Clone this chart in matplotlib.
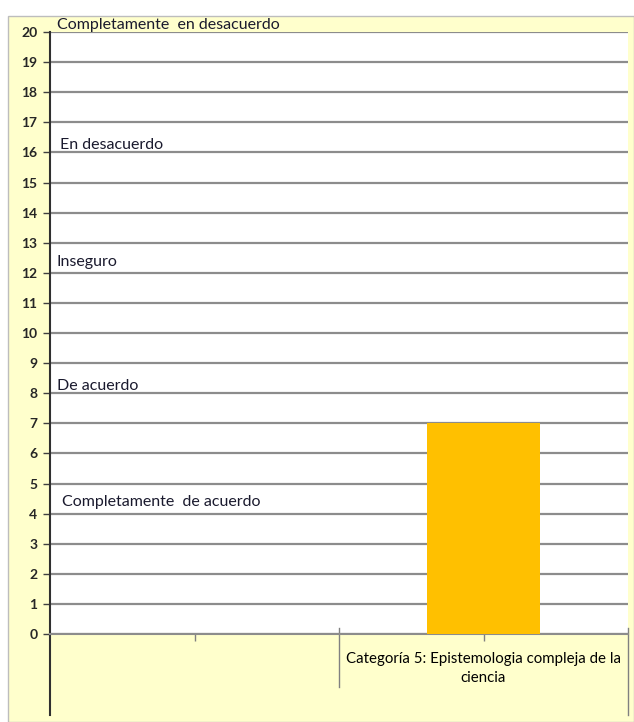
import numpy as np
import matplotlib.pyplot as plt
from matplotlib.patches import Rectangle

# data
categories = ["", "Categoría 5: Epistemologia compleja de la\nciencia"]
values = [0, 7]
scale_labels = ["Completamente  en desacuerdo", "En desacuerdo", "Inseguro",
                "De acuerdo", "Completamente  de acuerdo"]
scale_y = [20.0, 16.25, 12.35, 8.25, 4.4]

W, H = 634, 722
fig = plt.figure(figsize=(W / 100, H / 100), dpi=100)
fig.patch.set_facecolor("white")
plt.rcParams['font.family'] = ['Lato', 'DejaVu Sans']

# chart frame (yellow) on a background axes
bg = fig.add_axes([0, 0, 1, 1], zorder=0)
bg.set_xlim(0, W)
bg.set_ylim(H, 0)
bg.axis("off")
bg.add_patch(Rectangle((8, 16), W - 8, H - 16, facecolor="#FFFFCC",
                       edgecolor="#BDBDBD", lw=1))

x0, x1, y0, y1 = 50, 628, 634, 32
ax = fig.add_axes([x0 / W, 1 - y0 / H, (x1 - x0) / W, (y0 - y1) / H], zorder=1)
ax.set_facecolor("white")

xpos = np.arange(len(categories))
ax.bar(xpos, values, width=0.39, color="#FFC000", zorder=3)

ax.set_xlim(-0.5, 1.5)
ax.set_ylim(0, 20)
ax.set_yticks(range(0, 21))
ax.tick_params(axis="y", length=5, width=1, color="#404040", labelsize=10, pad=4)
for t in ax.get_yticklabels():
    t.set_fontweight("bold")
    t.set_color("#262626")
ax.set_xticks(xpos)
ax.set_xticklabels(categories, fontsize=10.8, linespacing=1.45)
ax.tick_params(axis="x", length=5, width=1, color="#808080", pad=8)
ax.yaxis.grid(True, color="#8C8C8C", lw=1.6, zorder=1)

for s in ["top", "right"]:
    ax.spines[s].set_visible(False)
ax.spines["left"].set_color("#303030")
ax.spines["left"].set_linewidth(1.5)
ax.spines["bottom"].set_color("#8C8C8C")
ax.spines["bottom"].set_linewidth(1.5)

# category divider lines below the axis
ax.plot([-0.5, -0.5], [0, -2.7], color="#303030", lw=1.5, clip_on=False)
ax.plot([1.5, 1.5], [0.2, -2.7], color="#808080", lw=1, clip_on=False)
ax.plot([0.5, 0.5], [0.2, -1.75], color="#808080", lw=1, clip_on=False)

# scale annotations
tx = [0.012, 0.017, 0.012, 0.012, 0.021]
for lab, yv, xv in zip(scale_labels, scale_y, tx):
    ax.text(xv, yv, lab, transform=ax.get_yaxis_transform(), fontsize=11.5,
            va="bottom" if yv == 20.0 else "center", ha="left", color="#1A1A2E",
            zorder=4, clip_on=False)

fig.savefig("out.png", dpi=100, facecolor=fig.get_facecolor())
